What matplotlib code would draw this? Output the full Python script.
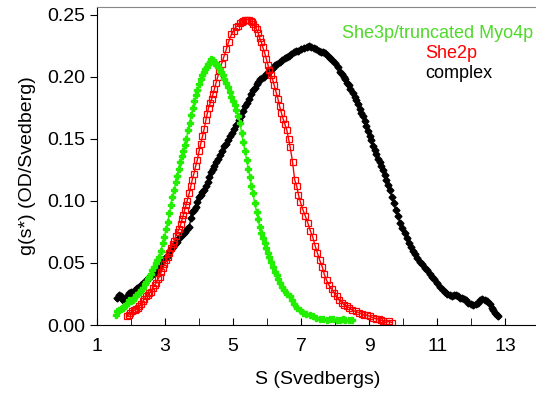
import matplotlib
matplotlib.use("Agg")
import matplotlib.pyplot as plt
from matplotlib.ticker import MultipleLocator, FormatStrFormatter

plt.rcParams['font.family'] = ['Liberation Sans', 'DejaVu Sans']

# She3p/truncated Myo4p
green_s = [1.55, 1.60, 1.65, 1.70, 1.75, 1.80, 1.85, 1.90, 1.94, 2.00, 2.05, 2.10, 2.15, 2.20,
           2.25, 2.30, 2.35, 2.40, 2.45, 2.49, 2.53, 2.58, 2.62, 2.67, 2.72, 2.77, 2.83, 2.88,
           2.93, 2.98, 3.03, 3.08, 3.13, 3.17, 3.21, 3.27, 3.31, 3.35, 3.40, 3.44, 3.49, 3.53,
           3.58, 3.63, 3.67, 3.72, 3.77, 3.82, 3.86, 3.91, 3.95, 4.00, 4.05, 4.09, 4.14, 4.18,
           4.22, 4.27, 4.31, 4.36, 4.40, 4.45, 4.49, 4.53, 4.57, 4.61, 4.65, 4.69, 4.74, 4.79,
           4.84, 4.90, 4.95, 5.00, 5.05, 5.10, 5.15, 5.20, 5.25, 5.30, 5.35, 5.40, 5.45, 5.50,
           5.54, 5.58, 5.64, 5.69, 5.74, 5.78, 5.83, 5.88, 5.93, 5.98, 6.03, 6.07, 6.12, 6.18,
           6.23, 6.28, 6.32, 6.37, 6.43, 6.50, 6.58, 6.66, 6.73, 6.80, 6.88, 6.96, 7.05, 7.15,
           7.25, 7.35, 7.45, 7.55, 7.65, 7.75, 7.85, 7.95, 8.05, 8.15, 8.22, 8.30, 8.40, 8.49]
green_g = [0.008, 0.011, 0.012, 0.013, 0.014, 0.015, 0.016, 0.018, 0.020, 0.019, 0.020, 0.022,
           0.024, 0.025, 0.027, 0.028, 0.030, 0.033, 0.035, 0.037, 0.039, 0.041, 0.044, 0.047,
           0.050, 0.052, 0.055, 0.060, 0.066, 0.071, 0.077, 0.083, 0.090, 0.097, 0.103, 0.109,
           0.115, 0.120, 0.126, 0.131, 0.136, 0.140, 0.145, 0.150, 0.157, 0.163, 0.169, 0.175,
           0.180, 0.185, 0.189, 0.194, 0.198, 0.201, 0.204, 0.206, 0.208, 0.210, 0.212, 0.214,
           0.213, 0.211, 0.210, 0.209, 0.208, 0.206, 0.204, 0.201, 0.198, 0.195, 0.192, 0.188,
           0.184, 0.180, 0.177, 0.173, 0.168, 0.163, 0.155, 0.147, 0.140, 0.133, 0.126, 0.119,
           0.112, 0.106, 0.098, 0.091, 0.085, 0.079, 0.074, 0.070, 0.066, 0.062, 0.058, 0.055,
           0.051, 0.047, 0.043, 0.040, 0.037, 0.034, 0.031, 0.028, 0.025, 0.023, 0.020, 0.017,
           0.014, 0.012, 0.010, 0.009, 0.008, 0.007, 0.006, 0.005, 0.005, 0.004, 0.005, 0.005,
           0.004, 0.004, 0.005, 0.004, 0.004, 0.004]

# She2p
red_s = [1.88, 1.93, 1.98, 2.03, 2.08, 2.12, 2.16, 2.20, 2.24, 2.29, 2.34, 2.39, 2.44, 2.49,
         2.54, 2.59, 2.64, 2.69, 2.74, 2.79, 2.84, 2.89, 2.94, 2.98, 3.03, 3.08, 3.12, 3.17,
         3.22, 3.27, 3.32, 3.37, 3.41, 3.46, 3.50, 3.54, 3.58, 3.62, 3.65, 3.71, 3.76, 3.80,
         3.85, 3.90, 3.95, 4.00, 4.05, 4.10, 4.15, 4.20, 4.24, 4.28, 4.33, 4.37, 4.41, 4.45,
         4.50, 4.55, 4.60, 4.66, 4.73, 4.80, 4.87, 4.95, 5.02, 5.08, 5.14, 5.19, 5.25, 5.30,
         5.36, 5.42, 5.47, 5.52, 5.56, 5.60, 5.65, 5.69, 5.74, 5.78, 5.83, 5.87, 5.93, 5.98,
         6.03, 6.07, 6.12, 6.16, 6.21, 6.26, 6.32, 6.37, 6.42, 6.47, 6.52, 6.58, 6.63, 6.68,
         6.75, 6.81, 6.87, 6.92, 6.98, 7.05, 7.12, 7.20, 7.27, 7.34, 7.41, 7.48, 7.55, 7.62,
         7.68, 7.75, 7.82, 7.90, 7.97, 8.05, 8.12, 8.20, 8.27, 8.35, 8.42, 8.50, 8.60, 8.70,
         8.78, 8.85, 8.93, 9.02, 9.10, 9.20, 9.28, 9.35, 9.42, 9.50, 9.58, 9.67]
red_g = [0.007, 0.008, 0.010, 0.011, 0.012, 0.012, 0.013, 0.014, 0.015, 0.017, 0.019, 0.021,
         0.023, 0.024, 0.026, 0.027, 0.030, 0.032, 0.034, 0.037, 0.039, 0.043, 0.046, 0.049,
         0.052, 0.055, 0.058, 0.062, 0.065, 0.068, 0.072, 0.075, 0.077, 0.081, 0.085, 0.089,
         0.093, 0.097, 0.100, 0.106, 0.112, 0.117, 0.122, 0.128, 0.133, 0.140, 0.146, 0.152,
         0.158, 0.165, 0.170, 0.175, 0.179, 0.182, 0.186, 0.190, 0.195, 0.200, 0.205, 0.210,
         0.216, 0.222, 0.228, 0.234, 0.237, 0.240, 0.241, 0.243, 0.244, 0.245, 0.246, 0.246,
         0.246, 0.245, 0.244, 0.242, 0.240, 0.238, 0.235, 0.231, 0.228, 0.224, 0.219, 0.214,
         0.209, 0.205, 0.201, 0.198, 0.193, 0.188, 0.182, 0.176, 0.171, 0.166, 0.162, 0.157,
         0.150, 0.143, 0.131, 0.117, 0.112, 0.105, 0.099, 0.093, 0.088, 0.082, 0.076, 0.071,
         0.064, 0.058, 0.052, 0.047, 0.041, 0.036, 0.032, 0.029, 0.026, 0.023, 0.020, 0.018,
         0.016, 0.015, 0.014, 0.012, 0.011, 0.010, 0.009, 0.008, 0.008, 0.007, 0.006, 0.005,
         0.005, 0.004, 0.003, 0.002, 0.003, 0.002]

# complex
black_s = [1.60, 1.65, 1.70, 1.75, 1.80, 1.85, 1.90, 1.95, 2.00, 2.06, 2.12, 2.18, 2.24, 2.30,
           2.36, 2.42, 2.48, 2.54, 2.60, 2.66, 2.72, 2.78, 2.83, 2.89, 2.95, 3.00, 3.05, 3.12,
           3.18, 3.24, 3.30, 3.36, 3.42, 3.48, 3.54, 3.60, 3.66, 3.71, 3.76, 3.80, 3.85, 3.90,
           3.95, 4.00, 4.05, 4.10, 4.15, 4.20, 4.25, 4.30, 4.35, 4.40, 4.45, 4.50, 4.56, 4.62,
           4.68, 4.74, 4.80, 4.86, 4.92, 4.98, 5.04, 5.10, 5.16, 5.22, 5.28, 5.35, 5.41, 5.48,
           5.54, 5.60, 5.65, 5.70, 5.74, 5.78, 5.84, 5.90, 5.97, 6.03, 6.10, 6.16, 6.23, 6.30,
           6.38, 6.45, 6.52, 6.58, 6.64, 6.70, 6.78, 6.85, 6.92, 7.00, 7.08, 7.17, 7.23, 7.30,
           7.38, 7.45, 7.52, 7.58, 7.64, 7.70, 7.78, 7.85, 7.92, 8.00, 8.07, 8.14, 8.20, 8.25,
           8.30, 8.35, 8.40, 8.45, 8.52, 8.57, 8.62, 8.67, 8.72, 8.77, 8.82, 8.87, 8.92, 8.97,
           9.02, 9.06, 9.11, 9.16, 9.21, 9.26, 9.31, 9.36, 9.41, 9.46, 9.50, 9.55, 9.60, 9.67,
           9.72, 9.78, 9.84, 9.91, 9.97, 10.04, 10.10, 10.16, 10.22, 10.29, 10.35, 10.42, 10.49,
           10.56, 10.63, 10.70, 10.78, 10.85, 10.92, 11.00, 11.09, 11.18, 11.24, 11.30, 11.38,
           11.45, 11.50, 11.56, 11.62, 11.68, 11.74, 11.80, 11.86, 11.92, 11.99, 12.06, 12.13,
           12.20, 12.27, 12.33, 12.40, 12.47, 12.54, 12.60, 12.65, 12.70, 12.75, 12.80]
black_g = [0.022, 0.024, 0.023, 0.020, 0.019, 0.021, 0.024, 0.026, 0.027, 0.026, 0.028, 0.030,
           0.031, 0.032, 0.034, 0.035, 0.037, 0.038, 0.040, 0.041, 0.043, 0.045, 0.046, 0.049,
           0.052, 0.054, 0.055, 0.059, 0.061, 0.063, 0.065, 0.067, 0.070, 0.072, 0.073, 0.075,
           0.077, 0.079, 0.086, 0.091, 0.093, 0.095, 0.099, 0.103, 0.105, 0.107, 0.109, 0.112,
           0.115, 0.119, 0.123, 0.126, 0.128, 0.131, 0.134, 0.137, 0.140, 0.144, 0.146, 0.149,
           0.152, 0.155, 0.158, 0.161, 0.165, 0.168, 0.172, 0.176, 0.179, 0.182, 0.186, 0.189,
           0.191, 0.194, 0.196, 0.198, 0.199, 0.200, 0.202, 0.203, 0.205, 0.207, 0.209, 0.210,
           0.212, 0.213, 0.215, 0.216, 0.217, 0.218, 0.220, 0.221, 0.221, 0.222, 0.223, 0.224,
           0.225, 0.224, 0.223, 0.222, 0.221, 0.220, 0.220, 0.219, 0.217, 0.215, 0.213, 0.211,
           0.208, 0.204, 0.202, 0.200, 0.198, 0.195, 0.193, 0.190, 0.187, 0.184, 0.181, 0.178,
           0.174, 0.171, 0.168, 0.164, 0.160, 0.156, 0.152, 0.149, 0.144, 0.141, 0.138, 0.134,
           0.131, 0.128, 0.125, 0.121, 0.117, 0.113, 0.109, 0.103, 0.098, 0.093, 0.088, 0.082,
           0.078, 0.074, 0.070, 0.066, 0.063, 0.060, 0.057, 0.054, 0.051, 0.049, 0.046, 0.044,
           0.041, 0.039, 0.037, 0.034, 0.031, 0.028, 0.027, 0.025, 0.024, 0.023, 0.024, 0.024,
           0.023, 0.022, 0.022, 0.021, 0.020, 0.018, 0.017, 0.016, 0.017, 0.018, 0.020, 0.021,
           0.020, 0.019, 0.017, 0.014, 0.012, 0.010, 0.008, 0.007]

fig = plt.figure(figsize=(5.36, 3.94), dpi=100)
ax = fig.add_axes([0.181, 0.175, 0.825, 0.807])

ax.plot(black_s, black_g, color="black", lw=1, marker="D", ms=3.5, mfc="black", mec="black")
ax.plot(red_s, red_g, color="red", lw=1, marker="s", ms=4.3, mfc="none", mec="red", mew=0.9)
ax.plot(green_s, green_g, color="#22ee00", lw=1, marker="P", ms=4.5, mfc="#22ee00", mec="#22ee00")

ax.set_xlim(1, 14)
ax.set_ylim(0, 0.256)
ax.set_xticks([1, 3, 5, 7, 9, 11, 13])
ax.xaxis.set_minor_locator(MultipleLocator(1))
ax.yaxis.set_major_locator(MultipleLocator(0.05))
ax.yaxis.set_major_formatter(FormatStrFormatter("%.2f"))
ax.tick_params(axis="x", which="both", direction="in", length=5, labelsize=14, pad=9)
ax.tick_params(axis="y", direction="out", length=5, labelsize=14)

ax.spines["right"].set_visible(False)
ax.spines["top"].set_color("#888888")
ax.spines["top"].set_linewidth(0.8)

ax.set_xlabel("S (Svedbergs)", fontsize=14, labelpad=12)
ax.set_ylabel("g(s*) (OD/Svedberg)", fontsize=14, labelpad=8)

ax.text(0.553, 0.918, "She3p/truncated Myo4p", transform=ax.transAxes, color="#4fd92a",
        fontsize=13, va="center")
ax.text(0.742, 0.855, "She2p", transform=ax.transAxes, color="red", fontsize=13, va="center")
ax.text(0.742, 0.792, "complex", transform=ax.transAxes, color="black", fontsize=13, va="center")

fig.savefig("out.png", dpi=100)
